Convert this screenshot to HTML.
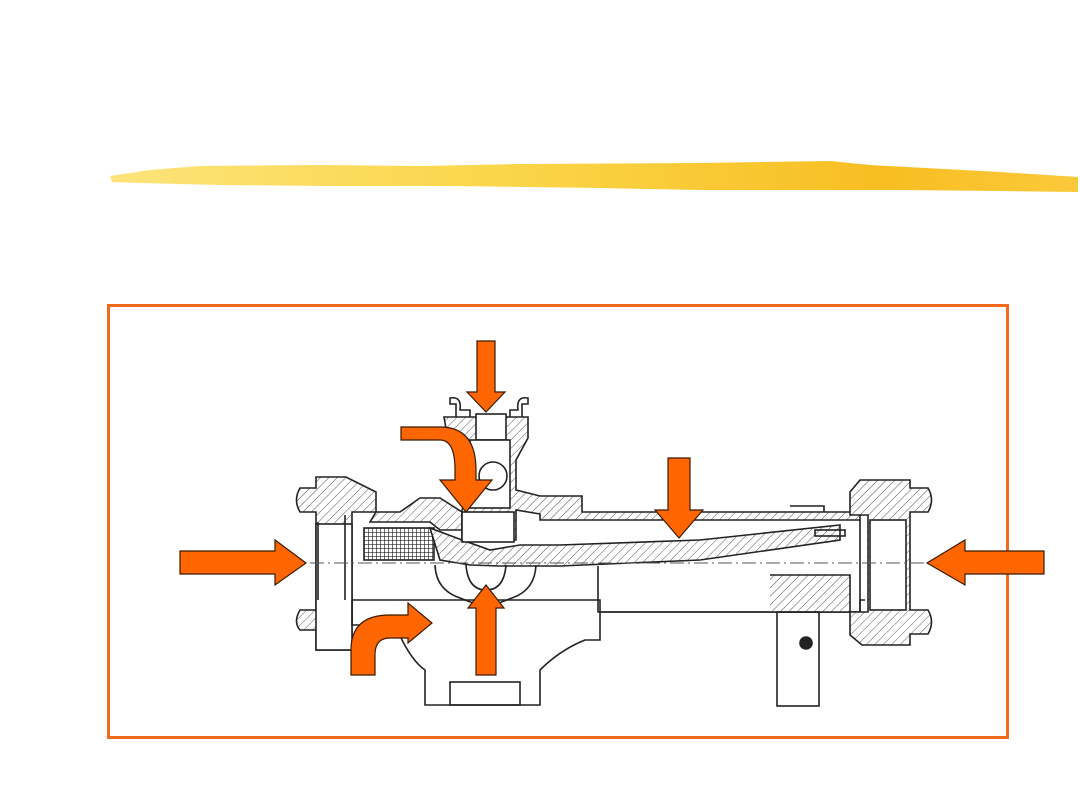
<!DOCTYPE html>
<html><head><style>
html,body{margin:0;padding:0;background:#fff;}
svg{display:block;}
</style></head><body>
<svg width="1080" height="810" viewBox="0 0 1080 810" xmlns="http://www.w3.org/2000/svg">
<defs>
<linearGradient id="br" x1="0" x2="1" y1="0" y2="0">
<stop offset="0" stop-color="#fde37a"/>
<stop offset="0.4" stop-color="#fad64a"/>
<stop offset="0.8" stop-color="#f8be22"/>
<stop offset="1" stop-color="#fac93a"/>
</linearGradient>
<pattern id="h" width="6" height="6" patternUnits="userSpaceOnUse" patternTransform="rotate(45)">
<rect width="6" height="6" fill="#fff"/><line x1="0" y1="0" x2="0" y2="6" stroke="#555" stroke-width="1"/>
</pattern>
<pattern id="m" width="4" height="4" patternUnits="userSpaceOnUse">
<rect width="4" height="4" fill="#fff"/><path d="M0 0H4M0 0V4" stroke="#222" stroke-width="1.3"/>
</pattern>
</defs>
<!-- brush stroke -->
<path d="M110 176 L150 170 L200 166 L320 165 L420 166 L520 164 L700 163 L830 161 L870 165 L1000 172 L1078 177 L1078 192 L1000 191 L900 190 L800 190 L700 190 L600 188 L450 186 L330 186 L220 185 L140 183 L112 182 Z" fill="url(#br)"/>
<!-- frame -->
<rect x="108.5" y="305.5" width="899" height="432" fill="none" stroke="#f26a1b" stroke-width="3"/>

<g fill="none" stroke="#222" stroke-width="1.6">
<!-- left flange -->
<path d="M316 477 H346 L376 492 V512 H352 V650 H316 V630 H300 Q293 622 300 610 H316 V512 H300 Q293 500 300 488 H316 Z" fill="url(#h)"/>
<rect x="316" y="524" width="36" height="126" fill="#fff"/>
<line x1="318" y1="522" x2="318" y2="600"/>
<line x1="345" y1="515" x2="345" y2="600"/>
<!-- top body lines -->
<path d="M376 512 H400 L420 498 H440 L462 512 V530 H440 L430 522 H370 Z" fill="url(#h)"/>
<rect x="364" y="528" width="70" height="32" fill="url(#m)"/>
<path d="M430 528 L462 540 L490 550 L520 545 H560 L700 540 L840 525 V540 L700 560 L560 566 L500 566 L470 565 L440 560 Z" fill="url(#h)"/>
<!-- top column -->
<path d="M444 417 H528 V438 L516 460 V490 L540 496 H582 V512 H860 V520 H540 V514 L516 510 V540 H462 V510 L470 490 V460 L448 440 Z" fill="url(#h)"/>
<rect x="462" y="512" width="52" height="30" fill="#fff"/>
<rect x="476" y="414" width="30" height="26" fill="#fff"/>
<rect x="470" y="440" width="40" height="68" fill="#fff"/>
<circle cx="493" cy="476" r="14"/>
<path d="M456 417 V404 H450 V398 Q462 396 460 410 H470 V417 M510 417 V410 H518 Q516 396 528 398 V404 H522 V417"/>
<!-- bottom body -->
<path d="M352 600 H600 V612 H860 V600 H865 M352 600 V625 H395 Q410 660 425 670 V705 H540 V670 Q560 650 585 640 H600 V612"/>
<rect x="450" y="682" width="70" height="23"/>
<path d="M435 565 Q436 590 460 598 L486 608 L512 598 Q535 590 536 565"/>
<path d="M466 565 Q468 590 486 590 Q504 590 506 565"/>
<!-- right tube -->
<path d="M598 566 V612 H860 V520"/>
<path d="M770 575 L850 575 V612 H770" fill="url(#h)"/>
<rect x="777" y="612" width="42" height="94"/>
<circle cx="806" cy="643" r="6" fill="#222"/>
<rect x="815" y="530" width="30" height="6"/>
<!-- right flange -->
<path d="M850 492 L860 480 H910 V488 H928 Q935 500 928 512 H910 V610 H928 Q935 622 928 634 H910 V645 H862 L850 635 V612 H868 V515 H850 Z" fill="url(#h)"/>
<rect x="870" y="520" width="36" height="90" fill="#fff"/>
<path d="M790 506 H824 V512"/>
</g>
<!-- centerline -->
<line x1="310" y1="563" x2="930" y2="563" stroke="#555" stroke-width="1" stroke-dasharray="14 4 2 4"/>

<g fill="#ff6600" stroke="#3a1a00" stroke-width="1.2">
<!-- top down -->
<path d="M477 341 H495 V392 H505 L486 412 L467 392 H477 Z"/>
<!-- curved top -->
<path d="M401 427 H440 Q476 427 476 470 V480 H492 L466 512 L440 480 H455 V470 Q455 440 440 440 H401 Z"/>
<!-- right middle down -->
<path d="M668 458 H690 V510 H703 L679 538 L655 510 H668 Z"/>
<!-- left arrow -->
<path d="M180 551 H275 V540 L306 563 L275 585 V574 H180 Z"/>
<!-- right arrow -->
<path d="M1044 551 H965 V540 L927 563 L965 585 V574 H1044 Z"/>
<!-- up arrow -->
<path d="M476 675 V608 H468 L486 585 L504 608 H496 V675 Z"/>
<!-- curved bottom left -->
<path d="M351 675 V650 Q351 615 390 615 H408 V603 L432 623 L408 643 V638 H390 Q375 638 375 655 V675 Z"/>
</g>
</svg>
</body></html>
